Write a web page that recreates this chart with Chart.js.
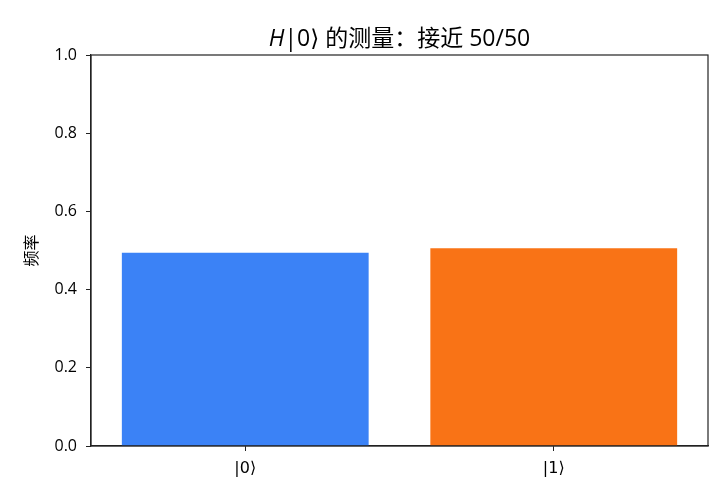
<!DOCTYPE html>
<html>
<head>
<meta charset="utf-8">
<script src="https://cdn.jsdelivr.net/npm/chart.js@4.4.0/dist/chart.umd.min.js"></script>
<style>
html,body{margin:0;padding:0;background:#fff;}
#wrap{width:728px;height:504px;position:relative;}
</style>
</head>
<body>
<div id="wrap"><canvas id="c" width="728" height="504"></canvas></div>
<script>
const categories = ["|0⟩", "|1⟩"];
const frequencies = [0.494, 0.506];
const barColors = ["#3b82f6", "#f97316"];
const yTicks = [0.0, 0.2, 0.4, 0.6, 0.8, 1.0];
const titleItalicPart = "H";
const titleRestPart = "|0⟩ 的测量：接近 50/50";
const yLabel = "频率";

const FONT = "'Open Sans', 'Noto Sans CJK SC', 'DejaVu Sans', sans-serif";

const framePlugin = {
  id: 'frame',
  afterDraw(chart) {
    const {ctx, chartArea: a} = chart;
    ctx.save();
    ctx.strokeStyle = '#222';
    ctx.lineWidth = 1.2;
    ctx.strokeRect(a.left, a.top, a.right - a.left, a.bottom - a.top);
    // title centred over the plot area, with italic H
    const f1 = "italic 23px " + FONT;
    const f2 = "23px " + FONT;
    ctx.font = f1;
    const w1 = ctx.measureText(titleItalicPart).width;
    ctx.font = f2;
    const w2 = ctx.measureText(titleRestPart).width;
    const cx = (a.left + a.right) / 2;
    const x0 = cx - (w1 + w2) / 2;
    const y = a.top - 16;
    ctx.fillStyle = '#000';
    ctx.textBaseline = 'middle';
    ctx.textAlign = 'left';
    ctx.font = f1;
    ctx.fillText(titleItalicPart, x0, y);
    ctx.font = f2;
    ctx.fillText(titleRestPart, x0 + w1, y);
    ctx.restore();
  }
};

new Chart(document.getElementById('c'), {
  type: 'bar',
  data: {
    labels: categories,
    datasets: [{
      data: frequencies,
      backgroundColor: barColors,
      borderWidth: 0,
      barPercentage: 0.8,
      categoryPercentage: 1.0
    }]
  },
  options: {
    responsive: false,
    animation: false,
    devicePixelRatio: 1,
    layout: { padding: { left: 23, right: 20, top: 55, bottom: 0 } },
    plugins: {
      legend: { display: false },
      tooltip: { enabled: false },
      title: { display: false }
    },
    scales: {
      x: {
        afterFit(axis) { axis.height = 58; },
        grid: { display: true, offset: false, drawOnChartArea: false, drawTicks: true, tickLength: 5, color: '#222' },
        border: { display: true, color: '#222', width: 1.2 },
        ticks: { color: '#000', font: { family: "'DejaVu Sans', 'Noto Sans CJK SC', sans-serif", size: 16 }, padding: 8 }
      },
      y: {
        min: 0,
        max: 1,
        afterFit(axis) { axis.width = 68; },
        afterBuildTicks(axis) { axis.ticks = yTicks.map(v => ({ value: v })); },
        grid: { display: true, drawOnChartArea: false, drawTicks: true, tickLength: 5, color: '#222' },
        border: { display: true, color: '#222', width: 1.2 },
        ticks: {
          color: '#000',
          font: { family: FONT, size: 16 },
          padding: 9,
          callback: v => Number(v).toFixed(1)
        },
        title: {
          display: true,
          text: yLabel,
          color: '#000',
          font: { family: FONT, size: 16 },
          padding: { top: 0, bottom: 0 }
        }
      }
    }
  },
  plugins: [framePlugin]
});
</script>
</body>
</html>
